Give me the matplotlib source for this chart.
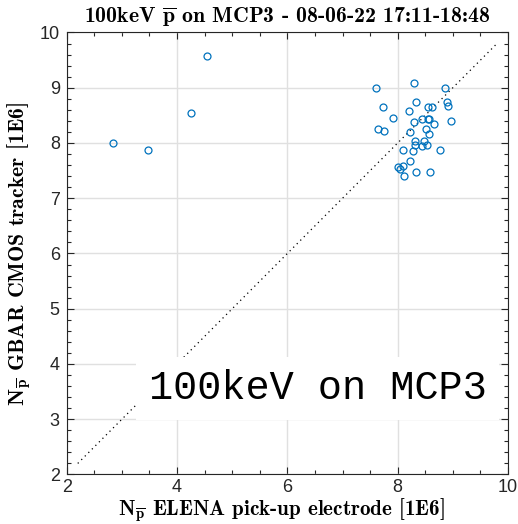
import matplotlib
matplotlib.use("Agg")
import matplotlib.pyplot as plt
from matplotlib.ticker import MultipleLocator

# Data (units of 1E6 antiprotons)
elena = [2.84, 3.48, 4.25, 4.54,
         7.60, 8.30, 8.86, 8.33, 8.90, 8.92, 7.74, 8.55, 8.62, 8.21,
         7.91, 8.44, 8.55, 8.57, 8.29, 8.97, 8.66, 7.64, 7.75, 8.51,
         8.22, 8.56, 8.31, 8.48, 8.32, 8.54, 8.44, 8.10, 8.77, 8.28,
         8.23, 8.10, 8.01, 8.04, 8.34, 8.59, 8.11]
cmos = [8.00, 7.87, 8.55, 9.57,
        8.99, 9.09, 8.99, 8.75, 8.74, 8.67, 8.66, 8.66, 8.66, 8.57,
        8.45, 8.43, 8.43, 8.43, 8.38, 8.40, 8.34, 8.25, 8.21, 8.26,
        8.19, 8.16, 8.03, 8.04, 7.96, 7.97, 7.94, 7.88, 7.88, 7.86,
        7.68, 7.59, 7.57, 7.53, 7.48, 7.47, 7.40]
diag = [2.2, 9.8]
xticks = [2, 4, 6, 8, 10]
yticks = [2, 3, 4, 5, 6, 7, 8, 9, 10]

plt.rcParams['mathtext.fontset'] = 'cm'

fig = plt.figure(figsize=(5.18, 5.24), dpi=100)
ax = fig.add_axes([0.1288, 0.0945, 0.8519, 0.8435])

blue = (0, 0.447, 0.741)
axcol = (0.15, 0.15, 0.15)

ax.plot(diag, diag, linestyle=(0, (1, 3)), color='black', linewidth=0.9, zorder=2)
ax.plot(elena, cmos, linestyle='none', marker='o', markersize=5,
        markerfacecolor='none', markeredgecolor=blue, markeredgewidth=0.9, zorder=4)

ax.set_xlim(2, 10)
ax.set_ylim(2, 10)
ax.set_xticks(xticks)
ax.set_yticks(yticks)
ax.set_xticklabels([str(t) for t in xticks], family='Liberation Sans')
ax.set_yticklabels([str(t) for t in yticks], family='Liberation Sans')
ax.xaxis.set_minor_locator(MultipleLocator(0.5))
ax.yaxis.set_minor_locator(MultipleLocator(0.2))
ax.tick_params(which='both', direction='in', top=True, right=True, colors=axcol,
               labelcolor=axcol, width=0.8)
ax.tick_params(which='major', length=5, labelsize=13, pad=5)
ax.tick_params(axis='x', which='major', pad=3)
ax.tick_params(which='minor', length=3)
for s in ax.spines.values():
    s.set_color(axcol)
    s.set_linewidth(0.8)
ax.grid(True, which='major', color=(0.88, 0.88, 0.88), linewidth=1.0)
ax.set_axisbelow(True)

lab_font = dict(family='cmb10', size=15.7, color='black')
ax.set_xlabel(r'N$_{\overline{\mathrm{\mathbf{p}}}}$ ELENA pick-up electrode [1E6]',
              family='cmb10', size=15.2, color='black')
ax.xaxis.set_label_coords(0.487, -0.1135)
ax.xaxis.label.set_verticalalignment('bottom')
ax.set_ylabel(r'N$_{\overline{\mathrm{\mathbf{p}}}}$ GBAR CMOS tracker [1E6]',
              labelpad=4, **lab_font)
ax.set_title(r'100keV $\overline{\mathbf{p}}$ on MCP3 - 08-06-22 17:11-18:48',
             pad=7, **lab_font)

ax.text(6.55, 3.56, '100keV on MCP3', family='Liberation Mono', fontsize=29,
        ha='center', va='center', color='black', zorder=5,
        bbox=dict(facecolor='white', edgecolor='none', pad=9))

fig.savefig('out.png', dpi=100)
